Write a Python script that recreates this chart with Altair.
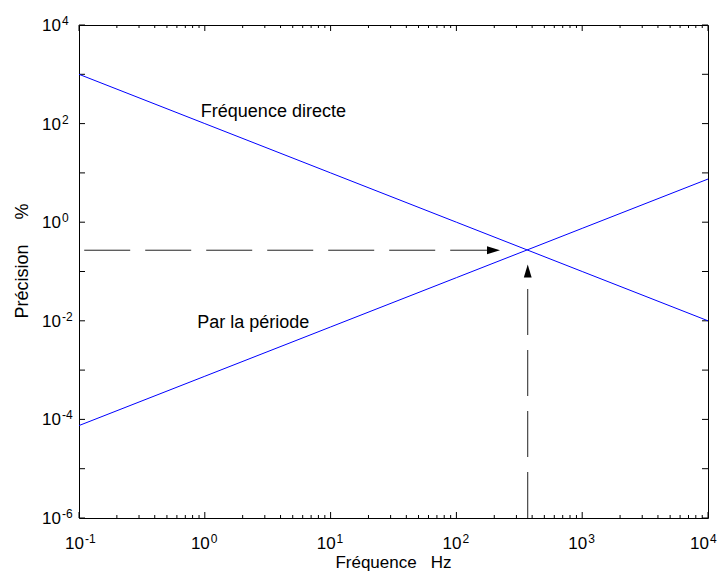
import altair as alt
import pandas as pd

# ---- data ----
freq = [0.1, 1, 10, 100, 1000, 10000]
freq_directe = [1000, 100, 10, 1, 0.1, 0.01]
par_periode = [7.5e-5, 7.5e-4, 7.5e-3, 0.075, 0.75, 7.5]

# dashed arrows (data coordinates)
h_arrow_x = [0.11, 175]      # dashed shaft start / end
h_arrow_y = [0.27]
h_tip = [222, 0.27]
v_arrow_x = [369]
v_arrow_y = [1e-6, 0.078]
v_tip = [369, 0.139]

# tick label values
x_label_vals = [0.1, 1, 10, 100, 1000, 10000]
x_label_exps = ["-1", "0", "1", "2", "3", "4"]
y_label_vals = [1e4, 1e2, 1, 1e-2, 1e-4, 1e-6]
y_label_exps = ["4", "2", "0", "-2", "-4", "-6"]
y_minor_vals = [1e3, 1e1, 1e-1, 1e-3, 1e-5]
minor_mult = [2, 3, 4, 5, 6, 7, 8, 9]
x_minor_vals = [m * d for d in [0.1, 1, 10, 100, 1000] for m in minor_mult]

annot_text = ["Fréquence directe", "Par la période"]
annot_x = [0.93, 0.87]
annot_y = [137, 0.007]

NB = "\u00a0"
x_title = "Fréquence" + NB * 3 + "Hz"
y_title = "Précision" + NB * 5 + "%"

W, H = 629, 493
FONT = "Liberation Sans"

xs = alt.Scale(type="log", domain=[0.1, 10000], nice=False)
ys = alt.Scale(type="log", domain=[1e-6, 1e4], nice=False)

rows = []
for f, a, b in zip(freq, freq_directe, par_periode):
    rows.append({"f": f, "v": a, "s": "Fréquence directe"})
    rows.append({"f": f, "v": b, "s": "Par la période"})
lines_df = pd.DataFrame(rows)

lines = alt.Chart(lines_df).mark_line(color="#0000ff", strokeWidth=1).encode(
    x=alt.X("f:Q", scale=xs, axis=None),
    y=alt.Y("v:Q", scale=ys, axis=None),
    detail="s:N",
)

dash = [46, 15]
hdash = alt.Chart(pd.DataFrame({"x": [h_arrow_x[0]], "x2": [h_arrow_x[1]], "y": h_arrow_y})).mark_rule(
    color="#222222", strokeWidth=1, strokeDash=dash
).encode(x=alt.X("x:Q", scale=xs, axis=None), x2="x2:Q", y=alt.Y("y:Q", scale=ys, axis=None))

vdash = alt.Chart(pd.DataFrame({"x": v_arrow_x, "y": [v_arrow_y[0]], "y2": [v_arrow_y[1]]})).mark_rule(
    color="#222222", strokeWidth=1, strokeDash=dash
).encode(x=alt.X("x:Q", scale=xs, axis=None), y=alt.Y("y:Q", scale=ys, axis=None), y2="y2:Q")

head_r = alt.Chart(pd.DataFrame({"x": [h_tip[0]], "y": [h_tip[1]]})).mark_point(
    shape="M0,0L-1,-0.3L-1,0.3Z", filled=True, size=676, color="black", opacity=1
).encode(x=alt.X("x:Q", scale=xs, axis=None), y=alt.Y("y:Q", scale=ys, axis=None))

head_u = alt.Chart(pd.DataFrame({"x": [v_tip[0]], "y": [v_tip[1]]})).mark_point(
    shape="M0,0L-0.3,1L0.3,1Z", filled=True, size=676, color="black", opacity=1
).encode(x=alt.X("x:Q", scale=xs, axis=None), y=alt.Y("y:Q", scale=ys, axis=None))

annots = alt.Chart(pd.DataFrame({"t": annot_text, "x": annot_x, "y": annot_y})).mark_text(
    align="left", baseline="alphabetic", fontSize=18, font=FONT, color="black"
).encode(x=alt.X("x:Q", scale=xs, axis=None), y=alt.Y("y:Q", scale=ys, axis=None), text="t:N")

# ---- inward ticks (box style) ----
xmaj = pd.DataFrame({"x": x_label_vals})
xmin = pd.DataFrame({"x": x_minor_vals})
ymaj = pd.DataFrame({"y": y_label_vals})
ymin = pd.DataFrame({"y": y_minor_vals})

def xticks(df, length):
    bot = alt.Chart(df).mark_rule(color="black", strokeWidth=1).encode(
        x=alt.X("x:Q", scale=xs, axis=None), y=alt.value(H), y2=alt.value(H - length))
    top = alt.Chart(df).mark_rule(color="black", strokeWidth=1).encode(
        x=alt.X("x:Q", scale=xs, axis=None), y=alt.value(0), y2=alt.value(length))
    return bot + top

def yticks(df, length):
    left = alt.Chart(df).mark_rule(color="black", strokeWidth=1).encode(
        y=alt.Y("y:Q", scale=ys, axis=None), x=alt.value(0), x2=alt.value(length))
    right = alt.Chart(df).mark_rule(color="black", strokeWidth=1).encode(
        y=alt.Y("y:Q", scale=ys, axis=None), x=alt.value(W), x2=alt.value(W - length))
    return left + right

ticks = xticks(xmaj, 6) + xticks(xmin, 3) + yticks(ymaj, 6) + yticks(ymin, 6)

# ---- tick labels 10^n ----
xl_all = pd.DataFrame({"x": x_label_vals, "e": x_label_exps, "b": ["10"] * len(x_label_vals)})
xl_main = xl_all.iloc[:-1]
xl_last = xl_all.iloc[-1:]
yl = pd.DataFrame({"y": y_label_vals, "e": y_label_exps, "b": ["10"] * len(y_label_vals)})

def xlabels(df, shift):
    base = alt.Chart(df).mark_text(align="right", baseline="alphabetic", fontSize=17, font=FONT,
                                   dx=5 + shift, color="black").encode(
        x=alt.X("x:Q", scale=xs, axis=None), y=alt.value(H + 31), text="b:N")
    exp = alt.Chart(df).mark_text(align="left", baseline="alphabetic", fontSize=12, font=FONT,
                                  dx=6 + shift, color="black").encode(
        x=alt.X("x:Q", scale=xs, axis=None), y=alt.value(H + 25), text="e:N")
    return base + exp

ybase = alt.Chart(yl).mark_text(align="right", baseline="alphabetic", fontSize=17, font=FONT, dy=6, color="black").encode(
    y=alt.Y("y:Q", scale=ys, axis=None), x=alt.value(-18), text="b:N")
yexp = alt.Chart(yl).mark_text(align="left", baseline="alphabetic", fontSize=12, font=FONT, dy=0, color="black").encode(
    y=alt.Y("y:Q", scale=ys, axis=None), x=alt.value(-17), text="e:N")

xtitle = alt.Chart(pd.DataFrame({"t": [x_title]})).mark_text(
    align="center", baseline="alphabetic", fontSize=17, font=FONT, color="black"
).encode(x=alt.value(W / 2), y=alt.value(H + 50), text="t:N")
ytitle = alt.Chart(pd.DataFrame({"t": [y_title]})).mark_text(
    align="center", baseline="alphabetic", fontSize=18, font=FONT, angle=270, color="black"
).encode(x=alt.value(-51), y=alt.value(236), text="t:N")

chart = alt.layer(
    ticks, hdash, vdash, head_r, head_u, lines, annots,
    xlabels(xl_main, 0), xlabels(xl_last, -4), ybase, yexp, xtitle, ytitle
).properties(
    width=W, height=H,
    autosize=alt.AutoSizeParams(type="none"),
    padding={"left": 71, "top": 17, "right": 9, "bottom": 54},
).configure_view(stroke="black", strokeWidth=1)

chart.save("out.html", embed_options={"renderer": "svg", "actions": False})
